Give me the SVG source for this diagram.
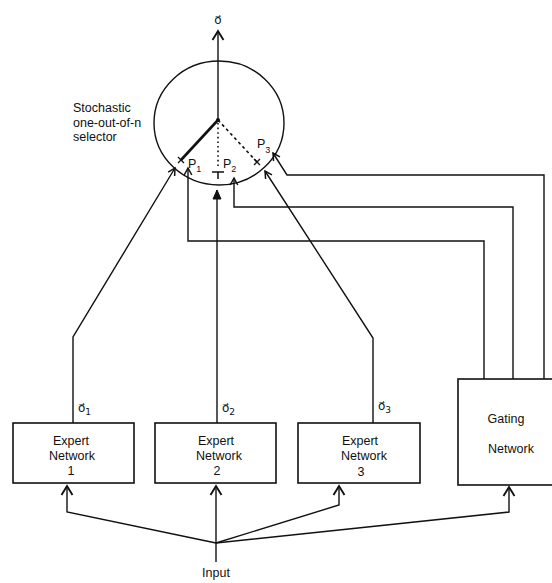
<svg xmlns="http://www.w3.org/2000/svg" width="552" height="583" viewBox="0 0 552 583">
<style>
.ln{fill:none;stroke:#111;stroke-width:1.4;stroke-linejoin:miter}
.box{fill:#fff;stroke:#111;stroke-width:1.6}
.t{font-family:"Liberation Sans",Arial,sans-serif;font-size:12.5px;fill:#111}
.v{font-family:"DejaVu Sans","Liberation Sans",sans-serif;font-size:12px;fill:#111}
.c{text-anchor:middle}
.s{font-size:9px}
</style>
<defs>
<marker id="big" markerUnits="userSpaceOnUse" markerWidth="16" markerHeight="16" refX="0" refY="0" viewBox="-12 -8 14 16" orient="auto" overflow="visible">
<path d="M-9,-5.5 L0,0 L-9,5.5" fill="none" stroke="#111" stroke-width="1.9"/>
</marker>
<marker id="sm" markerUnits="userSpaceOnUse" markerWidth="12" markerHeight="12" refX="0" refY="0" viewBox="-10 -6 12 12" orient="auto" overflow="visible">
<path d="M-7,-3.8 L0,0 L-7,3.8" fill="none" stroke="#111" stroke-width="1.5"/>
</marker>
<marker id="fill" markerUnits="userSpaceOnUse" markerWidth="12" markerHeight="12" refX="0" refY="0" viewBox="-10 -6 12 12" orient="auto" overflow="visible">
<path d="M-9,-4 L0,0 L-9,4 Z" fill="#111" stroke="#111" stroke-width="1"/>
</marker>
</defs>
<rect width="552" height="583" fill="#fff"/>

<g id="selector">
<ellipse cx="219" cy="123" rx="65" ry="62" fill="none" stroke="#111" stroke-width="1.4"/>
<circle cx="218" cy="120" r="2" fill="#111"/>
<line x1="218" y1="120" x2="181" y2="160" stroke="#111" stroke-width="2.6"/>
<line x1="218" y1="123" x2="218" y2="169" stroke="#111" stroke-width="1.6" stroke-dasharray="1.6,3"/>
<line x1="218" y1="120" x2="257" y2="162" stroke="#111" stroke-width="1.6" stroke-dasharray="3,3"/>
<path d="M178,157 L184,163 M184,157 L178,163" stroke="#111" stroke-width="1.3" fill="none"/>
<path d="M254,165 L260,159 M254,159 L260,165" stroke="#111" stroke-width="1.3" fill="none"/>
<path d="M212,172 L224,172 M218,172 L218,179" stroke="#111" stroke-width="1.5" fill="none"/>
<text class="t" x="188" y="168" font-size="12.5">P<tspan class="s" dy="4">1</tspan></text>
<text class="t" x="223" y="168" font-size="12.5">P<tspan class="s" dy="4">2</tspan></text>
<text class="t" x="257" y="148" font-size="12.5">P<tspan class="s" dy="5">3</tspan></text>
<text class="t" x="73" y="112" font-size="13.5">Stochastic</text>
<text class="t" x="73" y="127" font-size="13.5">one-out-of-n</text>
<text class="t" x="73" y="141" font-size="13.5">selector</text>
</g>

<g id="output">
<text class="v c" x="218" y="24" font-size="14">o&#x20D7;</text>
</g>

<g id="expert1">
<rect class="box" x="13" y="423" width="121" height="60"/>
<text class="t c" x="71" y="445">Expert</text>
<text class="t c" x="72" y="460">Network</text>
<text class="t c" x="71" y="475">1</text>
<text class="v" x="78" y="412">o&#x20D7;<tspan class="s" dy="3">1</tspan></text>
</g>
<g id="expert2">
<rect class="box" x="155" y="423" width="121" height="60"/>
<text class="t c" x="216" y="445">Expert</text>
<text class="t c" x="219" y="460">Network</text>
<text class="t c" x="217" y="475">2</text>
<text class="v" x="222" y="412">o&#x20D7;<tspan class="s" dy="3">2</tspan></text>
</g>
<g id="expert3">
<rect class="box" x="298" y="423" width="122" height="60"/>
<text class="t c" x="360" y="445">Expert</text>
<text class="t c" x="364" y="460">Network</text>
<text class="t c" x="361" y="476">3</text>
<text class="v" x="378" y="410">o&#x20D7;<tspan class="s" dy="3">3</tspan></text>
</g>
<g id="gating">
<rect class="box" x="458" y="379" width="110" height="106"/>
<text class="t c" x="506" y="423">Gating</text>
<text class="t c" x="511" y="453">Network</text>
</g>
<g id="input">
<text class="t c" x="216" y="577" font-size="11.5">Input</text>
</g>

<g id="connectors">
<line class="ln" x1="218" y1="120" x2="218" y2="31" marker-end="url(#big)"/>
<polyline class="ln" points="73,423 73,337 175,168" marker-end="url(#sm)"/>
<polyline class="ln" points="217,423 217,190" stroke-width="1.8" marker-end="url(#fill)"/>
<polyline class="ln" points="373,423 373,338 265,171" marker-end="url(#sm)"/>
<polyline class="ln" points="484,379 484,241 188,241 188,168" marker-end="url(#sm)"/>
<polyline class="ln" points="513,379 513,207 234,207 234,178" marker-end="url(#sm)"/>
<polyline class="ln" points="544,379 544,175 287,175 273,153" marker-end="url(#sm)"/>
<polyline class="ln" points="216,543 67,512 67,486" marker-end="url(#big)"/>
<polyline class="ln" points="216,543 216,486" marker-end="url(#big)"/>
<polyline class="ln" points="216,543 339,505 339,486" marker-end="url(#big)"/>
<polyline class="ln" points="216,543 509,512 509,487" marker-end="url(#big)"/>
<line class="ln" x1="216" y1="543" x2="216" y2="562"/>
</g>
</svg>
